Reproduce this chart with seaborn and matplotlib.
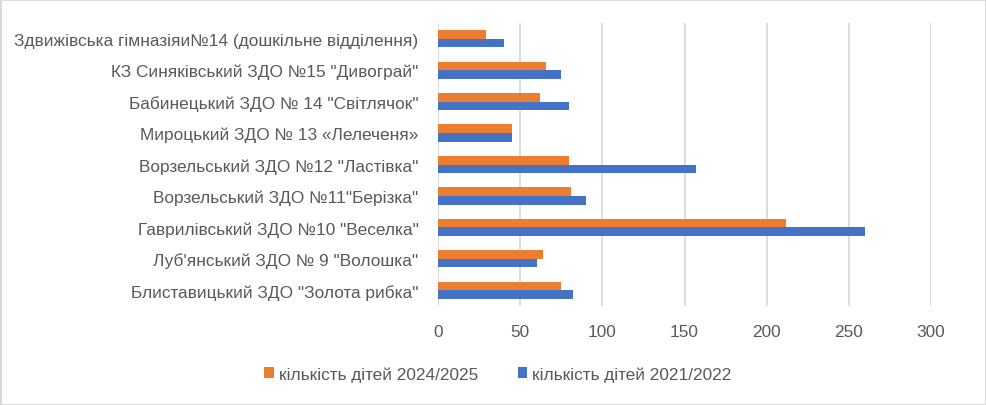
import matplotlib
matplotlib.use("Agg")
import matplotlib.pyplot as plt
import seaborn as sns
import pandas as pd
from matplotlib.patches import Rectangle

categories = [
    'Здвижівська гімназіяи№14 (дошкільне відділення)',
    'КЗ Синяківський ЗДО №15 "Дивограй"',
    'Бабинецький ЗДО № 14 "Світлячок"',
    'Мироцький ЗДО № 13 «Лелеченя»',
    'Ворзельський ЗДО №12 "Ластівка"',
    'Ворзельський ЗДО №11"Берізка"',
    'Гаврилівський ЗДО №10 "Веселка"',
    'Луб\'янський ЗДО № 9 "Волошка"',
    'Блиставицький ЗДО "Золота рибка"',
]
series_names = ['кількість дітей 2024/2025', 'кількість дітей 2021/2022']
values_2024 = [29, 66, 62, 45, 80, 81, 212, 64, 75]
values_2021 = [40, 75, 80, 45, 157, 90, 260, 60, 82]
x_ticks = [0, 50, 100, 150, 200, 250, 300]

df = pd.DataFrame({
    'category': categories * 2,
    'series': [series_names[0]] * len(categories) + [series_names[1]] * len(categories),
    'value': values_2024 + values_2021,
})

sns.set_theme(style="white")
plt.rcParams['font.family'] = ['Liberation Sans', 'DejaVu Sans']

fig = plt.figure(figsize=(9.86, 4.06), dpi=100)
ax = fig.add_axes([438/986, 1 - 307/406, (931-438)/986, (307-24)/406])

sns.barplot(data=df, y='category', x='value', hue='series', order=categories,
            hue_order=series_names, palette=['#ED7D31', '#4472C4'],
            width=0.55, orient='h', ax=ax, saturation=1, legend=True, linewidth=0)

ax.set_xlim(0, 300)
ax.set_xticks(x_ticks)
ax.grid(axis='x', color='#D9D9D9', linewidth=1.3)
ax.set_axisbelow(True)
for s in ax.spines.values():
    s.set_visible(False)
ax.set_xlabel('')
ax.set_ylabel('')
ax.tick_params(axis='both', length=0, labelsize=12.4, colors='#595959')
ax.tick_params(axis='x', pad=13)
ax.tick_params(axis='y', pad=14)

handles, labels = ax.get_legend_handles_labels()
ax.legend_.remove()
fig.legend(handles, labels, loc='center', bbox_to_anchor=(498/986, 1 - 375/406),
           ncol=2, frameon=False, fontsize=12.4, labelcolor='#595959',
           handlelength=0.55, handleheight=0.55, handletextpad=0.3, columnspacing=2.3)

fig.patches.append(Rectangle((0.5/986, 0.5/406), 1 - 1/986, 1 - 1/406, transform=fig.transFigure,
                             fill=False, edgecolor='#D9D9D9', linewidth=1.5))

fig.savefig('out.png', dpi=100)
